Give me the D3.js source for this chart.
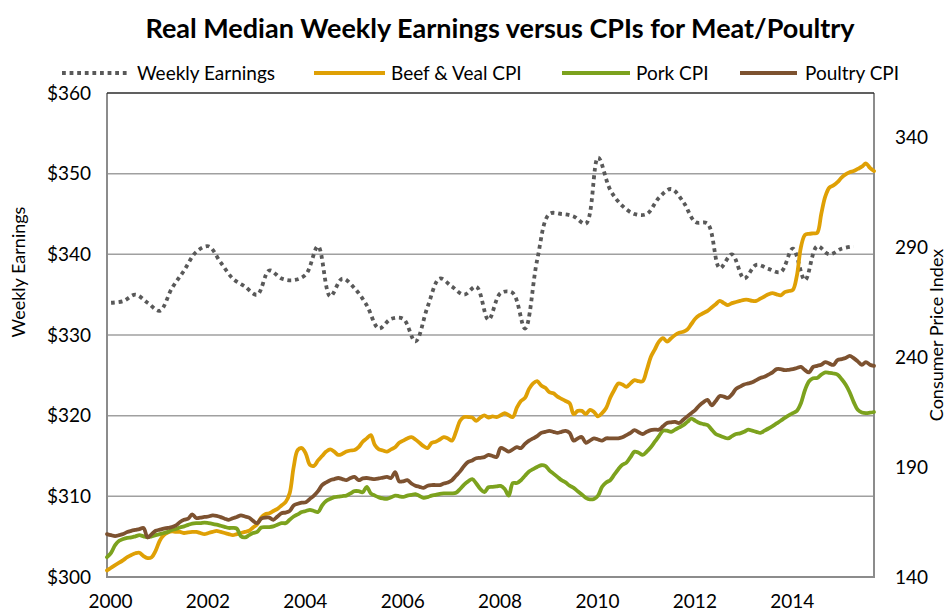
<!DOCTYPE html>
<html><head><meta charset="utf-8">
<script src="https://cdn.jsdelivr.net/npm/d3@7"></script>
<style>
body{margin:0;background:#fff}
svg{display:block}
text{font-family:Lato,"Open Sans",sans-serif;fill:#000}
</style>
</head><body>
<svg id="chart" width="946" height="613"></svg>
<script>
// ---------- DATA ----------
const title = "Real Median Weekly Earnings versus CPIs for Meat/Poultry";
const leftTicks = [300, 310, 320, 330, 340, 350, 360];
const rightTicks = [140, 190, 240, 290, 340];
const xTickMonths = [0, 24, 48, 72, 96, 120, 144, 168];   // months since Jan 2000
const xTickLabels = ["2000", "2002", "2004", "2006", "2008", "2010", "2012", "2014"];
const seriesNames = ["Weekly Earnings", "Beef & Veal CPI", "Pork CPI", "Poultry CPI"];

// Quarterly real median weekly earnings, 2000 Q1 .. 2015 Q2 (plotted at mid-quarter month)
const weeklyEarnings = [334,334.2,335,334,333,335.8,338,340.3,341,339,337,336,335,338,337,336.8,
  337.5,341,334.8,337,335.8,333.7,330.8,332,332,329.2,333.5,337,336,335,336,331.9,335.2,335.2,
  330.8,339.3,345,345,344.7,343.8,352,348,346,345,345,347,348.1,346.5,344,343.8,338.3,340,337,
  338.7,338.2,337.8,340.7,336.8,341,340,340.7,341];

// Monthly CPIs, Jan 2000 .. Oct 2015
const beefCPI = [143,144.2,145.4,146.5,147.7,149,150,150.8,151,149.5,148.6,149,
  152,156.5,159,160.2,160.8,160.5,160.5,160,160.3,160.5,160.5,160,
  159.5,160,160.5,161,160.5,160,159.5,159,159.5,160,160.5,161,
  162.5,164,167,168.5,169,170,171,172.5,174,178,190,197.7,
  198.6,196,191,190.5,193,195,197,198,197,195.5,196,197,
  197.5,197.7,199,201.5,203,204.5,200,198,197.5,197,198,199,
  201,202,203,203.6,202.5,201,199.5,198.6,201,201.5,202.5,203.6,
  203,202,206,211,212.7,212.7,212.5,211,212.5,213.5,212.5,213,
  212.7,213.5,214.5,213.5,212.7,217,220,221.4,225.5,228,229,227,
  226,224,223.5,222,221,220,219,214,215.5,215.5,214,216,
  215,213,214.5,216.8,221.5,225,228,227.5,226.4,228,229.5,229,
  229,234,240,243.5,247,248.6,247,248.5,250,251,251.5,252.5,
  255,257.5,259,260,261,262.5,264,265.5,264.5,263.6,264.5,265,
  265.5,266,266,265.5,265.5,266.5,267.5,268.5,269,268.5,268,269.5,
  270,270.5,277,290,295.5,296,296.2,296.4,305,313,317,318,
  319.5,321.5,323,324,324.5,325.5,326.5,328,326,324.5];

const porkCPI = [149,151,154.5,156.5,157.3,157.8,158,158.5,159,158.5,158,158.5,
  159,159.5,160,160.5,161.4,161.8,162.5,163,163.7,164.3,164.5,164.5,
  164.7,164.5,164.2,163.8,163.3,162.8,162.3,162.3,162,158.5,158,159,
  160,160.5,162.5,162.7,162.7,163,163.8,164.5,164.5,166,167.5,168.5,
  169.5,170,170.5,170,169.5,172.5,174.5,175.5,176.3,176.5,176.8,177,
  178,179,179,178.5,181,178,177,176.2,175.7,175.5,176.2,177,
  176.7,176.4,177,177.3,177.7,176.8,176,176.3,177,177.3,177.8,178,
  178,178,178.3,180,182,183.5,184.5,182.5,180,178.6,180.8,181,
  181.2,181.4,180,177,182.7,182.7,184,186,188,189,190,190.8,
  190.5,188.5,187,185.5,184,183,181.5,180.5,179,177.5,176,175.3,
  175.5,177,181,183,184,186.5,189,191,192,194.5,197,196.5,
  195.5,197,199,201.5,204,206.5,206.5,206,207,208,209,210.5,
  212,211,210,209.5,209,207,205,204.2,203.5,203,204,205,
  205.3,206,207,206.5,206,205.5,206.5,207.5,208.6,209.8,211,212.3,
  213.5,214.5,215.5,219,225,229,230.3,230.5,232,233,232.8,232.5,
  232,230,227.5,224,219.5,216,214.8,214.5,214.7,215];

const poultryCPI = [159.5,159,158.6,159,159.5,160.5,161,161.4,161.8,162.3,158,159.5,
  161,161.5,162,162.3,162.7,163.5,165,166,166.5,168.5,166.8,167,
  167.3,167.5,168,167.8,167.2,166.5,166,166.7,167.3,168,167.5,167,
  165.5,164.5,166.5,167,167,166,167.5,169,169.3,170,172.5,173.3,
  173.8,174,175.5,177,179,181.8,183,184,184.5,185,184.5,184,
  185,185.5,184,184.8,185,184.7,184.5,184.8,185.2,185.5,185,187.7,
  183.5,183.5,184,182.5,181.5,181,180.5,181.5,181.8,181.8,181.8,182.5,
  183,184,186,188,190.5,192.3,193,194,194.2,194.5,195.5,195,
  194.5,198.6,198,197,198,199,198.6,200.5,202,203,204,205.5,
  206,206.4,206,205.5,206,206.4,205.5,202,203,203.6,201,202,
  203,202.5,202,203,203,203,203,203.5,204.5,205.5,206.8,205.8,
  205,206,206.8,207,207,208.5,210,210.3,210.5,210,211.5,213,
  214.5,216,218,219.5,220.5,218,220,222.3,222,221.4,223,225.5,
  226.5,227.5,228,228.5,229.5,230.5,231,232,233,234.5,234.5,234,
  234.2,234.5,235,235.5,234,233,235.5,236,236.5,237.7,237,236.4,
  238.6,239,239.5,240.5,239.5,238,236.4,237.7,236.5,236];

// ---------- CHART ----------
const svg = d3.select("#chart");
const P = {left:107, right:874, top:93, bottom:577};
const colors = {earn:"#595959", beef:"#DFA005", pork:"#7CA21E", poultry:"#7D5230"};

const x = d3.scaleLinear().domain([0, 189]).range([P.left, P.right]);
const yL = d3.scaleLinear().domain([300, 360]).range([P.bottom, P.top]);
const yR = d3.scaleLinear().domain([140, 360]).range([P.bottom, P.top]);

// gridlines
svg.append("g").selectAll("line").data(leftTicks.filter(d => d > 300 && d < 360)).join("line")
  .attr("x1", P.left).attr("x2", P.right)
  .attr("y1", d => yL(d)).attr("y2", d => yL(d))
  .attr("stroke", "#A0A0A0").attr("stroke-width", 1.5);

// plot border
svg.append("path")
  .attr("d", `M${P.left},${P.top}V${P.bottom}H${P.right}V${P.top}`)
  .attr("fill", "none").attr("stroke", "#8C8C8C").attr("stroke-width", 2);
svg.append("line").attr("x1", P.left).attr("x2", P.right)
  .attr("y1", yL(360)).attr("y2", yL(360))
  .attr("stroke", "#2B2B2B").attr("stroke-width", 1.5);

// axes
const fs = "19px";
const gL = svg.append("g").attr("transform", `translate(${P.left},0)`)
  .call(d3.axisLeft(yL).tickValues(leftTicks).tickFormat(d => "$" + d).tickSize(0).tickPadding(16));
const gR = svg.append("g").attr("transform", `translate(${P.right},0)`)
  .call(d3.axisRight(yR).tickValues(rightTicks).tickSize(0).tickPadding(21));
const gB = svg.append("g").attr("transform", `translate(0,${P.bottom})`)
  .call(d3.axisBottom(x).tickValues(xTickMonths).tickFormat((d, i) => xTickLabels[i]).tickSize(0).tickPadding(18));
[gL, gR, gB].forEach(g => {
  g.select(".domain").remove();
  g.selectAll("text").style("font-size", fs).style("font-family", "Lato").attr("fill", "#000");
});
gB.selectAll("text").attr("dx", 3);

// axis titles
svg.append("text").attr("transform", "translate(25,272) rotate(-90)")
  .attr("text-anchor", "middle").style("font-size", "18px").text("Weekly Earnings");
svg.append("text").attr("transform", "translate(943,335) rotate(-90)")
  .attr("text-anchor", "middle").style("font-size", "18px").text("Consumer Price Index");

// title
svg.append("text").attr("x", 500).attr("y", 38).attr("text-anchor", "middle")
  .style("font-size", "27px").style("font-weight", "bold").text(title);

// lines
const lineL = d3.line().x((d, i) => x(i * 3 + 1)).y(d => yL(d)).curve(d3.curveCatmullRom);
const lineR = d3.line().x((d, i) => x(i)).y(d => yR(d)).curve(d3.curveCatmullRom);

svg.append("path").datum(weeklyEarnings).attr("d", lineL)
  .attr("fill", "none").attr("stroke", colors.earn).attr("stroke-width", 3.8)
  .attr("stroke-dasharray", "3.8,3.8");
[[beefCPI, colors.beef], [porkCPI, colors.pork], [poultryCPI, colors.poultry]].forEach(([s, c]) => {
  svg.append("path").datum(s).attr("d", lineR)
    .attr("fill", "none").attr("stroke", c).attr("stroke-width", 3.8)
    .attr("stroke-linejoin", "round").attr("stroke-linecap", "round");
});

// legend
const legendY = 73;
const legendItems = [
  {name: seriesNames[0], color: colors.earn, dash: "3.8,3.8", x1: 62, x2: 128, tx: 137},
  {name: seriesNames[1], color: colors.beef, dash: null, x1: 314, x2: 385, tx: 391},
  {name: seriesNames[2], color: colors.pork, dash: null, x1: 562, x2: 630, tx: 636},
  {name: seriesNames[3], color: colors.poultry, dash: null, x1: 740, x2: 797, tx: 805}
];
const lg = svg.append("g").selectAll("g").data(legendItems).join("g");
lg.append("line").attr("x1", d => d.x1).attr("x2", d => d.x2)
  .attr("y1", legendY).attr("y2", legendY)
  .attr("stroke", d => d.color).attr("stroke-width", 3.8)
  .attr("stroke-dasharray", d => d.dash);
lg.append("text").attr("x", d => d.tx).attr("y", legendY).attr("dy", "0.35em")
  .style("font-size", "19px").text(d => d.name);
</script>
</body></html>
